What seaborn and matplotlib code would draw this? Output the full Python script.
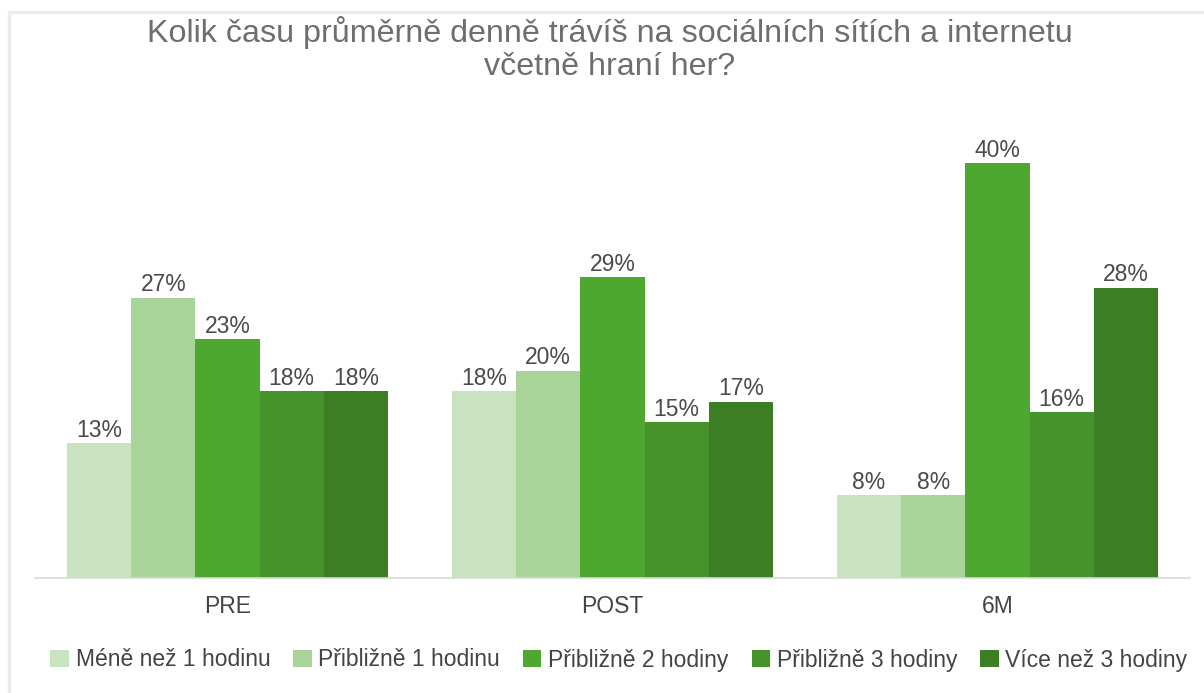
import matplotlib
matplotlib.use("Agg")
import matplotlib.pyplot as plt
import seaborn as sns
import pandas as pd
from matplotlib.patches import Patch
from matplotlib.lines import Line2D

groups = ["PRE", "POST", "6M"]
answers = ["Méně než 1 hodinu", "Přibližně 1 hodinu", "Přibližně 2 hodiny",
           "Přibližně 3 hodiny", "Více než 3 hodiny"]
mene_1 = [13, 18, 8]
pribl_1 = [27, 20, 8]
pribl_2 = [23, 29, 40]
pribl_3 = [18, 15, 16]
vice_3 = [18, 17, 28]
colors = ["#c9e3c0", "#a8d49a", "#4ea72e", "#46932b", "#3c7e24"]
title = "Kolik času průměrně denně trávíš na sociálních sítích a internetu\nvčetně hraní her?"

series = [mene_1, pribl_1, pribl_2, pribl_3, vice_3]
rows = []
for ans, vals in zip(answers, series):
    for g, v in zip(groups, vals):
        rows.append({"group": g, "answer": ans, "value": v})
df = pd.DataFrame(rows)

sns.set_theme(style="white")
plt.rcParams["font.family"] = ["Liberation Sans", "DejaVu Sans"]

W, H = 1204, 693
fig = plt.figure(figsize=(W / 100, H / 100), dpi=100)
ymax = 42
pxper = 10.375
ax = fig.add_axes([35 / W, 115 / H, (1190 - 35) / W, ymax * pxper / H])

sns.barplot(data=df, x="group", y="value", hue="answer", order=groups,
            hue_order=answers, palette=colors, width=0.834, saturation=1,
            gap=0, ax=ax, legend=False, linewidth=0)

for cont in ax.containers:
    ax.bar_label(cont, labels=[f"{int(round(v))}%" for v in cont.datavalues],
                 padding=1, fontsize=16.5, color="#4a4a4a")

ax.set_ylim(0, ymax)
ax.set_xlim(-0.5, 2.5)
ax.set_xlabel("")
ax.set_ylabel("")
ax.set_yticks([])
for s in ["top", "right", "left"]:
    ax.spines[s].set_visible(False)
ax.spines["bottom"].set_color("#d9d9d9")
ax.spines["bottom"].set_linewidth(1.2)
ax.tick_params(axis="x", length=0, pad=12, labelsize=16.5, labelcolor="#444444")

fig.text(610 / W, 1 - 49 / H, title, ha="center", va="center",
         fontsize=23.2, color="#6e6e6e", linespacing=1.15)

handles = [Patch(facecolor=c, edgecolor="none") for c in colors]
fig.legend(handles, answers, loc="center", bbox_to_anchor=(619 / W, 1 - 660 / H),
           ncol=5, frameon=False, fontsize=16.5, labelcolor="#444444",
           handlelength=0.8, handleheight=0.8, handletextpad=0.3,
           columnspacing=1.0)

# faint chart frame
fig.add_artist(Line2D([9 / W, 1], [1 - 12 / H, 1 - 12 / H], color="#ececec", lw=2.5))
fig.add_artist(Line2D([9 / W, 9 / W], [0, 1 - 12 / H], color="#ececec", lw=2.5))

fig.savefig("out.png", dpi=100, facecolor="white")
